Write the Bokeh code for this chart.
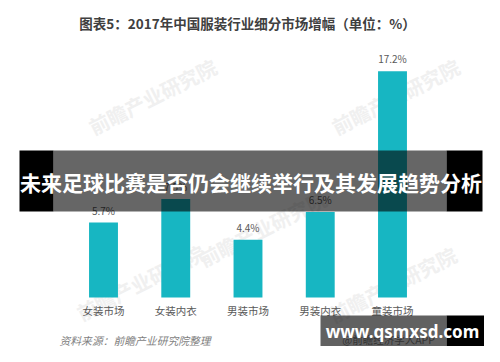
from bokeh.plotting import figure
from bokeh.models import Range1d
from bokeh.core.properties import value
from bokeh.embed import file_html
from bokeh.resources import INLINE

# ---- data ----
categories = ["女装市场", "女装内衣", "男装市场", "男装内衣", "童装市场"]
growth = [5.7, 7.5, 4.4, 6.5, 17.2]
value_labels = ["5.7%", "7.5%", "4.4%", "6.5%", "17.2%"]
title_text = "图表5：2017年中国服装行业细分市场增幅（单位：%）"
source_text = "资料来源：前瞻产业研究院整理"
banner_text = "未来足球比赛是否仍会继续举行及其发展趋势分析"
site_text = "www.qsmxsd.com"
app_text = "@前瞻经济学人APP"
watermark_text = "前瞻产业研究院"

CJK = "Noto Sans CJK SC"
W, H = 484, 346
X0, SX = 103.0, 72.25    # pixel of first category, pixels per category
B, SY = 297.0, 13.15     # pixel of baseline, pixels per percent


def fx(px):
    return (px - X0) / SX


def fy(py):
    return (B - py) / SY


p = figure(width=W, height=H, output_backend="svg", toolbar_location=None,
           x_range=Range1d(fx(0), fx(W)), y_range=Range1d(fy(H), fy(0)),
           x_axis_location=None, y_axis_location=None, min_border=0)
p.grid.visible = False
p.outline_line_color = None
p.background_fill_color = "white"
p.border_fill_color = "white"

xs = list(range(len(categories)))

# faint watermarks
wm_x = [fx(152), fx(395), fx(262), fx(140), fx(392)]
wm_y = [fy(96), fy(96), fy(228), fy(282), fy(284)]
p.text(x=wm_x, y=wm_y, text=[watermark_text] * len(wm_x), angle=0.47,
       text_font=value(CJK), text_font_size="20px", text_color="#f0f0f0",
       text_font_style="bold", text_align="center", text_baseline="middle")

# title
p.text(x=[fx(247)], y=[fy(22)], text=[title_text], text_font=value(CJK),
       text_font_size="13.5px", text_font_style="bold", text_color="#404040",
       text_align="center", text_baseline="middle")

# bars
p.vbar(x=xs, top=growth, bottom=0, width=0.4, fill_color="#17B6C2",
       line_color=None)

# value labels
p.text(x=xs, y=[g + 5.0 / SY for g in growth], text=value_labels,
       text_font=value(CJK), text_font_size="10px", text_color="#595959",
       text_align="center", text_baseline="bottom")

# category labels
p.text(x=xs, y=[-13.0 / SY] * len(xs), text=categories, text_font=value(CJK),
       text_font_size="10.5px", text_color="#595959", text_align="center",
       text_baseline="middle")

# source
p.text(x=[fx(59)], y=[fy(339)], text=[source_text], text_font=value(CJK),
       text_font_size="10.8px", text_font_style="italic", text_color="#7f7f7f",
       text_align="left", text_baseline="middle")

# app credit (under the overlay box)
p.text(x=[fx(388)], y=[fy(339)], text=[app_text], text_font=value(CJK),
       text_font_size="10.5px", text_color="#8a8a8a", text_align="center",
       text_baseline="middle")

# banner overlay
p.quad(left=[fx(19), fx(446)], right=[fx(53), fx(482)], top=fy(150),
       bottom=fy(211), fill_color="black", line_color=None)
p.quad(left=[fx(53)], right=[fx(446)], top=fy(150), bottom=fy(211),
       fill_color="black", fill_alpha=0.6, line_color=None)
p.text(x=[fx(250.5)], y=[fy(181)], text=[banner_text], text_font=value(CJK),
       text_font_size="21px", text_font_style="bold", text_color="white",
       text_align="center", text_baseline="middle")

# site box overlay
p.quad(left=[fx(320)], right=[fx(446)], top=fy(315), bottom=fy(346),
       fill_color="black", fill_alpha=0.62, line_color=None)
p.quad(left=[fx(446)], right=[fx(484)], top=fy(315), bottom=fy(346),
       fill_color="black", line_color=None)
p.text(x=[fx(402)], y=[fy(331)], text=[site_text],
       text_font=value("Noto Sans"), text_font_size="17px",
       text_font_style="bold", text_color="white", text_align="center",
       text_baseline="middle")

open("out.html", "w").write(file_html(p, INLINE))
